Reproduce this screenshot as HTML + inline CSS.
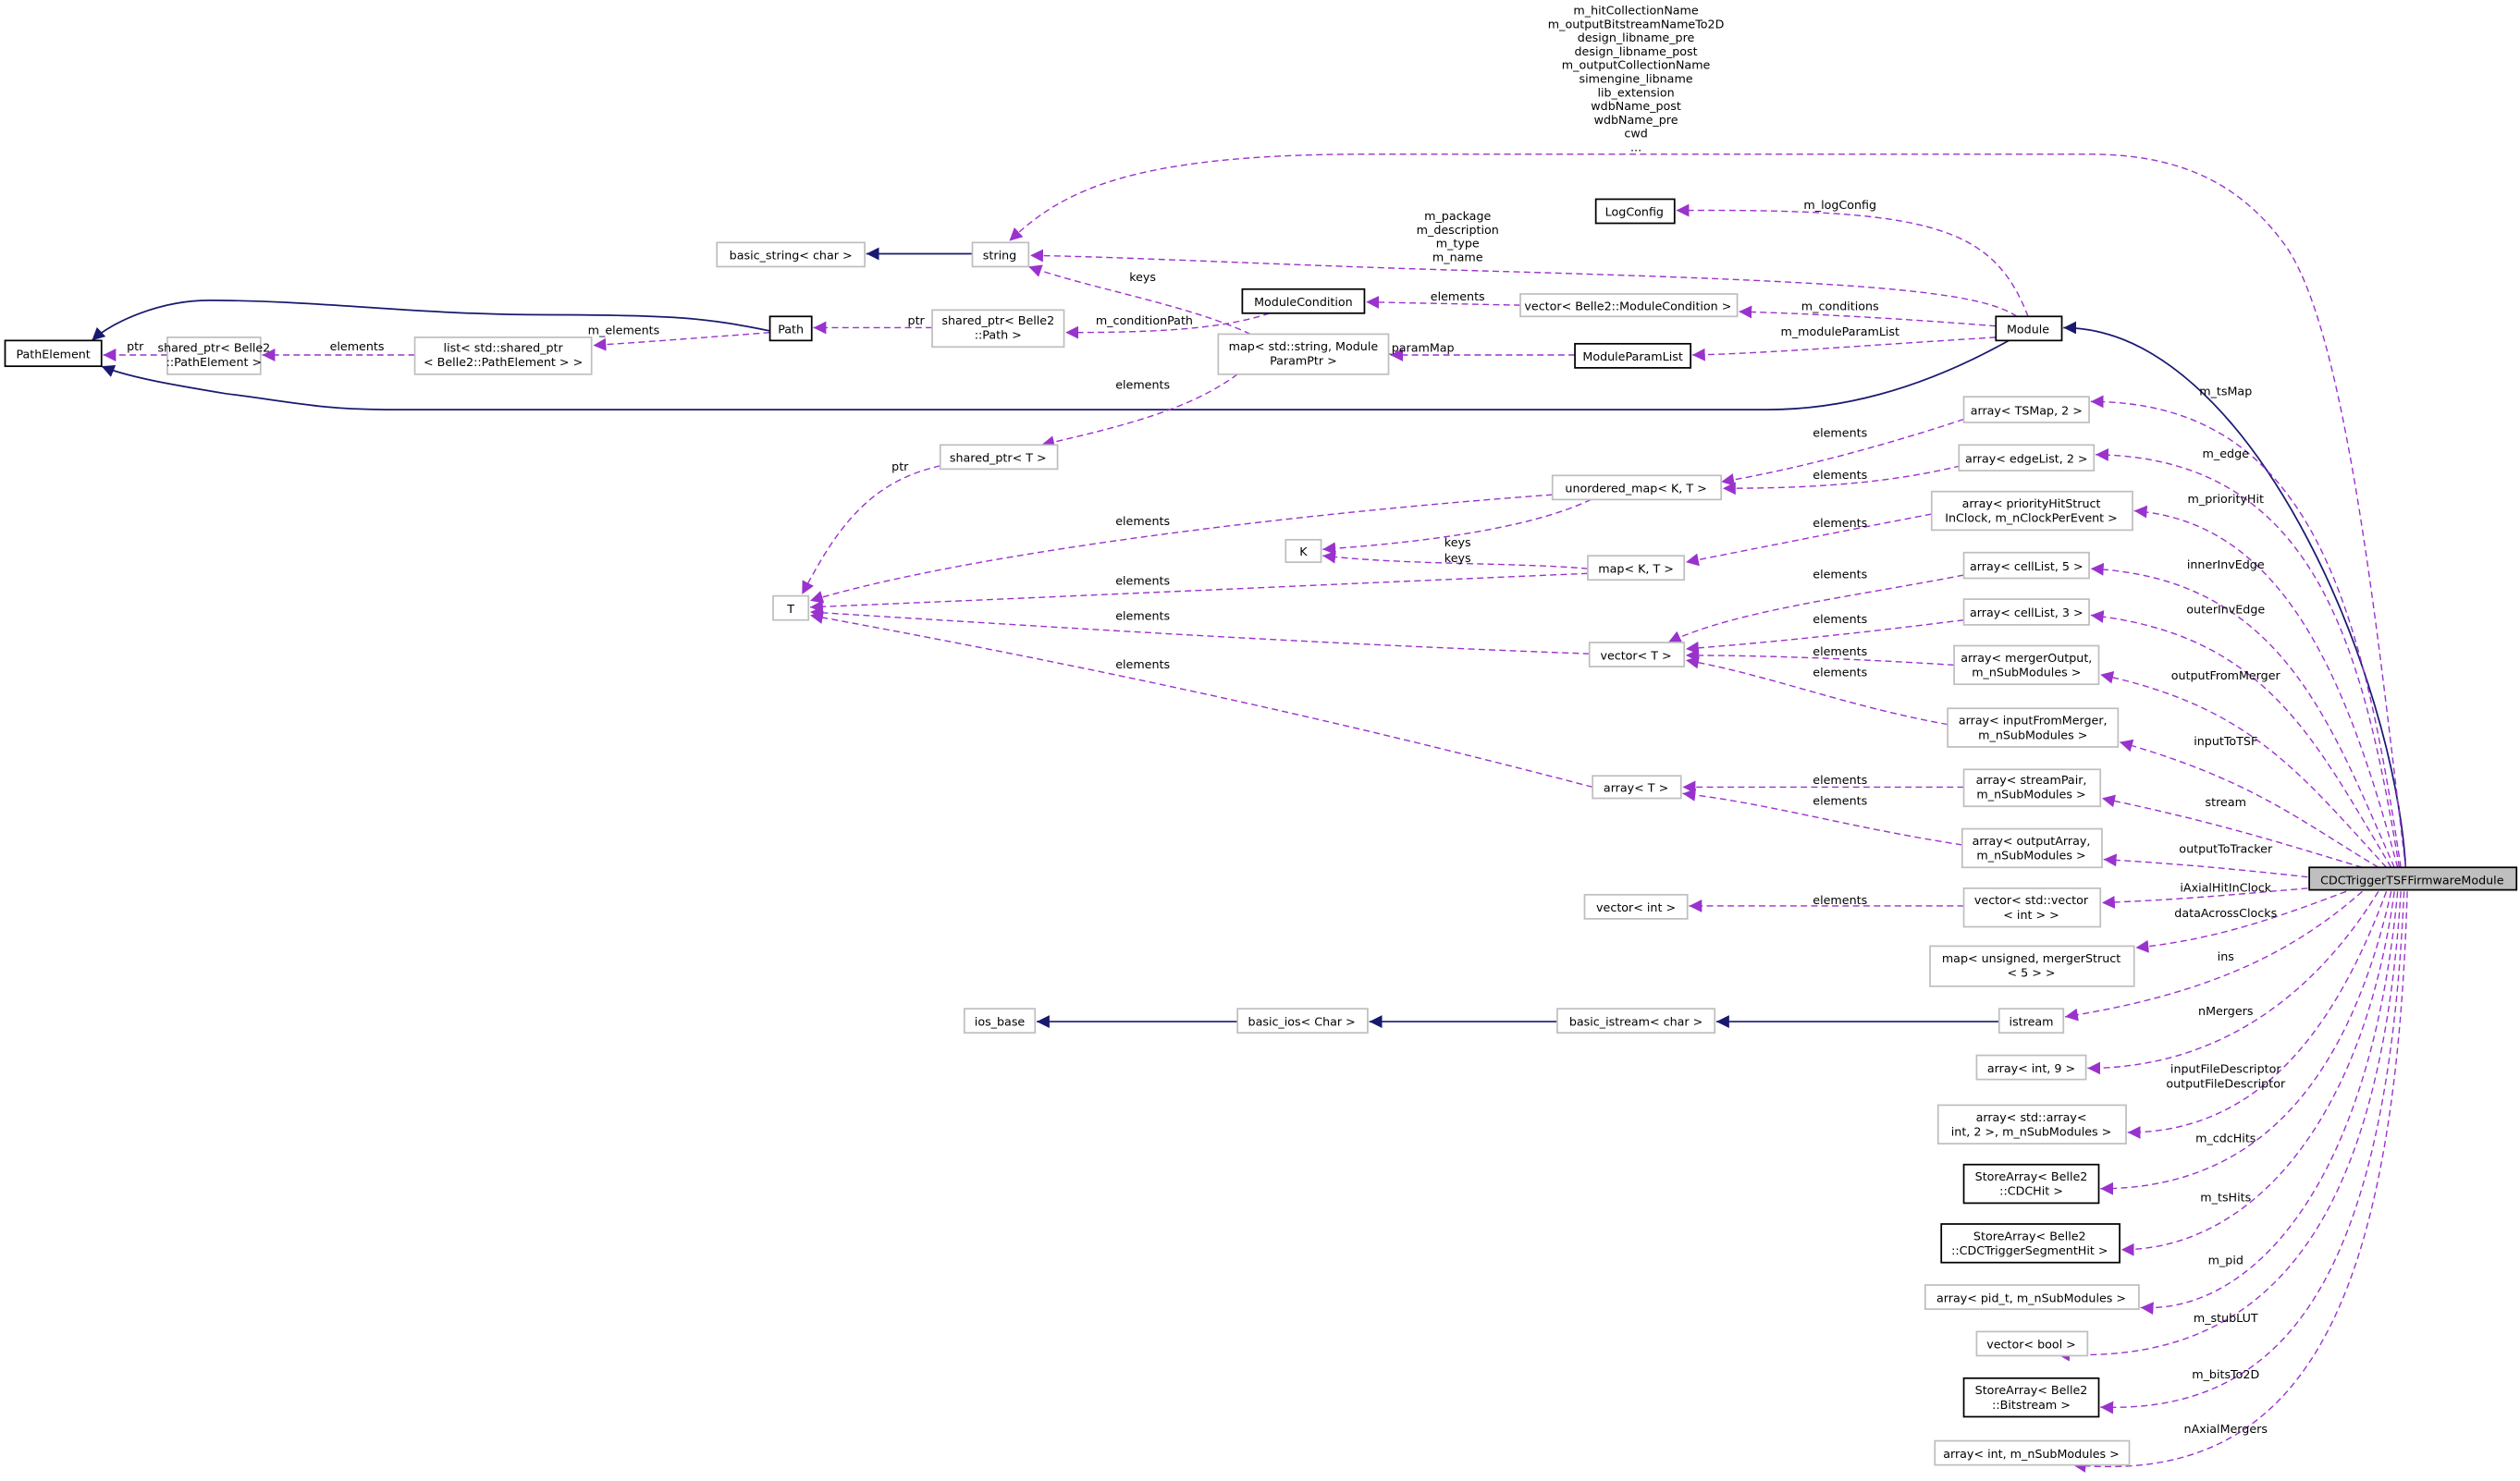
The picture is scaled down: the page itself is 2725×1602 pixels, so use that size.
<!DOCTYPE html>
<html><head><meta charset="utf-8"><style>
html,body{margin:0;padding:0;background:#fff;}
svg{display:block;}
text{font-family:"DejaVu Sans","Liberation Sans",sans-serif;font-size:7.3px;fill:#000;}
.g{fill:#fff;stroke:#bfbfbf;stroke-width:1;}
.b{fill:#fff;stroke:#000;stroke-width:1;}
.d{fill:none;stroke:#9a32cd;stroke-width:0.8;stroke-dasharray:4,2.5;marker-end:url(#mp);}
.s{fill:none;stroke:#191970;stroke-width:1;marker-end:url(#mn);}
</style></head><body>
<svg width="2725" height="1602" viewBox="0 0 1568 922" xmlns="http://www.w3.org/2000/svg">
<defs>
<marker id="mp" markerUnits="userSpaceOnUse" markerWidth="10" markerHeight="8" refX="8" refY="4" orient="auto"><path d="M0,0 L8,4 L0,8 z" fill="#9a32cd"/></marker>
<marker id="mn" markerUnits="userSpaceOnUse" markerWidth="10" markerHeight="8" refX="8" refY="4" orient="auto"><path d="M0,0 L8,4 L0,8 z" fill="#191970"/></marker>
</defs>

<path class="s" d="M605,158 L539,158"/>
<path class="s" d="M1244,636 L1068,636"/>
<path class="s" d="M969,636 L852,636"/>
<path class="s" d="M770,636 L645,636"/>
<path class="s" d="M479,206 C440,198 420,196 340,196 C260,196 200,187 130,187 C100,187 70,200 57,212"/>
<path class="s" d="M1250,212 C1200,240 1150,255 1100,255 L240,255 C200,255 180,250 140,245 C110,240 80,235 63,228"/>
<path class="s" d="M1497,540 C1490,420 1400,204 1284,204"/>

<path class="d" d="M104,221 L64,221"/>
<path class="d" d="M258,221 L163,221"/>
<path class="d" d="M479,207 C440,210 400,213 369,215"/>
<path class="d" d="M580,204 L506,204"/>
<path class="d" d="M790,195 C760,205 720,207 663,207"/>
<path class="d" d="M778,208 C740,190 680,180 640,166"/>
<path class="d" d="M1255,197 C1230,180 1150,175 900,168 C800,165 700,160 641,159"/>
<path class="d" d="M1262,197 C1240,140 1200,130 1043,131"/>
<path class="d" d="M946,190 L850,188"/>
<path class="d" d="M1242,203 C1180,198 1120,195 1082,194"/>
<path class="d" d="M1242,210 C1160,215 1100,220 1053,221"/>
<path class="d" d="M980,221 L865,221"/>
<path class="d" d="M770,233 C740,255 700,265 648,277"/>
<path class="d" d="M585,290 C540,300 520,330 499,370"/>
<path class="d" d="M966,308 C800,320 600,345 504,374"/>
<path class="d" d="M990,311 C950,330 880,338 823,342"/>
<path class="d" d="M988,354 C940,350 880,352 823,346"/>
<path class="d" d="M988,357 C800,365 650,372 504,378"/>
<path class="d" d="M989,407 C800,400 650,390 504,381"/>
<path class="d" d="M991,490 C800,440 650,410 504,383"/>

<path class="d" d="M1222,261 C1180,275 1120,292 1071,300"/>
<path class="d" d="M1220,290 C1170,302 1120,304 1072,304"/>
<path class="d" d="M1202,320 C1150,330 1100,340 1049,350"/>
<path class="d" d="M1222,358 C1150,372 1080,380 1038,400"/>
<path class="d" d="M1222,386 C1150,395 1100,400 1049,404"/>
<path class="d" d="M1216,414 C1150,410 1100,408 1049,408"/>
<path class="d" d="M1212,451 C1150,440 1100,420 1049,411"/>
<path class="d" d="M1222,490 L1047,490"/>
<path class="d" d="M1221,526 C1150,515 1100,500 1047,494"/>
<path class="d" d="M1222,564 L1051,564"/>

<path class="d" d="M1497,540 C1480,400 1460,200 1420,150 C1390,110 1350,96 1300,96 L850,96 C700,96 660,120 628,150"/>

<path class="d" d="M1494,540 C1470,380 1440,250 1301,250"/>
<path class="d" d="M1493,540 C1470,400 1440,285 1304,283"/>
<path class="d" d="M1492,540 C1460,420 1420,325 1328,318"/>
<path class="d" d="M1490,540 C1450,450 1420,360 1301,354"/>
<path class="d" d="M1488,540 C1440,460 1410,395 1301,383"/>
<path class="d" d="M1485,540 C1430,480 1400,440 1307,420"/>
<path class="d" d="M1480,540 C1430,510 1400,485 1319,462"/>
<path class="d" d="M1470,540 C1420,525 1380,512 1308,497"/>
<path class="d" d="M1436,546 C1400,542 1360,538 1309,535"/>
<path class="d" d="M1436,553 C1400,556 1360,560 1308,562"/>
<path class="d" d="M1460,555 C1420,570 1380,585 1329,590"/>
<path class="d" d="M1470,555 C1430,590 1380,618 1285,633"/>
<path class="d" d="M1480,555 C1440,620 1380,665 1299,665"/>
<path class="d" d="M1485,555 C1450,650 1400,705 1324,705"/>
<path class="d" d="M1488,555 C1460,680 1400,740 1307,740"/>
<path class="d" d="M1490,555 C1470,700 1400,778 1320,778"/>
<path class="d" d="M1492,555 C1475,740 1400,818 1332,814"/>
<path class="d" d="M1494,555 C1480,780 1400,850 1280,843"/>
<path class="d" d="M1496,555 C1485,800 1420,880 1307,876"/>
<path class="d" d="M1498,555 C1490,820 1430,925 1290,912"/>

<g text-anchor="middle">
<text x="84" y="218">ptr</text>
<text x="222" y="218">elements</text>
<text x="388" y="208">m_elements</text>
<text x="570" y="202">ptr</text>
<text x="712" y="202">m_conditionPath</text>
<text x="711" y="175">keys</text>
<text x="907" y="137">m_package</text>
<text x="907" y="145.5">m_description</text>
<text x="907" y="154">m_type</text>
<text x="907" y="162.5">m_name</text>
<text x="1145" y="130">m_logConfig</text>
<text x="907" y="187">elements</text>
<text x="1145" y="193">m_conditions</text>
<text x="1145" y="209">m_moduleParamList</text>
<text x="880" y="219">m_paramMap</text>
<text x="711" y="242">elements</text>
<text x="560" y="293">ptr</text>
<text x="711" y="327">elements</text>
<text x="907" y="340">keys</text>
<text x="907" y="350">keys</text>
<text x="711" y="364">elements</text>
<text x="711" y="386">elements</text>
<text x="711" y="416">elements</text>
<text x="1145" y="272">elements</text>
<text x="1145" y="298">elements</text>
<text x="1145" y="328">elements</text>
<text x="1145" y="360">elements</text>
<text x="1145" y="388">elements</text>
<text x="1145" y="408">elements</text>
<text x="1145" y="421">elements</text>
<text x="1145" y="488">elements</text>
<text x="1145" y="501">elements</text>
<text x="1145" y="563">elements</text>
<text x="1385" y="246">m_tsMap</text>
<text x="1385" y="285">m_edge</text>
<text x="1385" y="313">m_priorityHit</text>
<text x="1385" y="354">innerInvEdge</text>
<text x="1385" y="382">outerInvEdge</text>
<text x="1385" y="423">outputFromMerger</text>
<text x="1385" y="464">inputToTSF</text>
<text x="1385" y="502">stream</text>
<text x="1385" y="531">outputToTracker</text>
<text x="1385" y="555">iAxialHitInClock</text>
<text x="1385" y="571">dataAcrossClocks</text>
<text x="1385" y="598">ins</text>
<text x="1385" y="632">nMergers</text>
<text x="1385" y="668">inputFileDescriptor</text>
<text x="1385" y="677">outputFileDescriptor</text>
<text x="1385" y="711">m_cdcHits</text>
<text x="1385" y="748">m_tsHits</text>
<text x="1385" y="787">m_pid</text>
<text x="1385" y="823">m_stubLUT</text>
<text x="1385" y="858">m_bitsTo2D</text>
<text x="1385" y="892">nAxialMergers</text>
<text x="1018" y="9">m_hitCollectionName</text>
<text x="1018" y="17.5">m_outputBitstreamNameTo2D</text>
<text x="1018" y="26">design_libname_pre</text>
<text x="1018" y="34.5">design_libname_post</text>
<text x="1018" y="43">m_outputCollectionName</text>
<text x="1018" y="51.5">simengine_libname</text>
<text x="1018" y="60">lib_extension</text>
<text x="1018" y="68.5">wdbName_post</text>
<text x="1018" y="77">wdbName_pre</text>
<text x="1018" y="85.5">cwd</text>
<text x="1018" y="94">...</text>
</g>

<g text-anchor="middle">
<rect class="b" x="3" y="212" width="60" height="16"/><text x="33" y="223">PathElement</text>
<rect class="g" x="104" y="210" width="58" height="23"/><text x="133" y="219">shared_ptr&lt; Belle2</text><text x="133" y="228">::PathElement &gt;</text>
<rect class="g" x="258" y="210" width="110" height="23"/><text x="313" y="219">list&lt; std::shared_ptr</text><text x="313" y="228">&lt; Belle2::PathElement &gt; &gt;</text>
<rect class="b" x="479" y="197" width="26" height="15"/><text x="492" y="207.5">Path</text>
<rect class="g" x="446" y="151" width="92" height="15"/><text x="492" y="161.5">basic_string&lt; char &gt;</text>
<rect class="g" x="605" y="151" width="35" height="15"/><text x="622" y="161.5">string</text>
<rect class="g" x="580" y="193" width="82" height="23"/><text x="621" y="202">shared_ptr&lt; Belle2</text><text x="621" y="211">::Path &gt;</text>
<rect class="b" x="773" y="180" width="76" height="15"/><text x="811" y="190.5">ModuleCondition</text>
<rect class="g" x="758" y="208" width="106" height="25"/><text x="811" y="218">map&lt; std::string, Module</text><text x="811" y="227">ParamPtr &gt;</text>
<rect class="g" x="946" y="183" width="135" height="14"/><text x="1013" y="193">vector&lt; Belle2::ModuleCondition &gt;</text>
<rect class="b" x="980" y="214" width="72" height="15"/><text x="1016" y="224.5">ModuleParamList</text>
<rect class="b" x="993" y="124" width="49" height="15"/><text x="1017" y="134.5">LogConfig</text>
<rect class="b" x="1242" y="197" width="41" height="15"/><text x="1262" y="207.5">Module</text>
<rect class="g" x="585" y="277" width="73" height="15"/><text x="621" y="287.5">shared_ptr&lt; T &gt;</text>
<rect class="g" x="481" y="371" width="22" height="15"/><text x="492" y="381.5">T</text>
<rect class="g" x="966" y="296" width="105" height="15"/><text x="1018" y="306.5">unordered_map&lt; K, T &gt;</text>
<rect class="g" x="800" y="336" width="22" height="14"/><text x="811" y="346">K</text>
<rect class="g" x="988" y="346" width="60" height="15"/><text x="1018" y="356.5">map&lt; K, T &gt;</text>
<rect class="g" x="989" y="400" width="59" height="15"/><text x="1018" y="410.5">vector&lt; T &gt;</text>
<rect class="g" x="991" y="483" width="55" height="14"/><text x="1018" y="493">array&lt; T &gt;</text>
<rect class="g" x="986" y="557" width="64" height="15"/><text x="1018" y="567.5">vector&lt; int &gt;</text>
<rect class="g" x="600" y="628" width="44" height="15"/><text x="622" y="638.5">ios_base</text>
<rect class="g" x="770" y="628" width="81" height="15"/><text x="810" y="638.5">basic_ios&lt; Char &gt;</text>
<rect class="g" x="969" y="628" width="98" height="15"/><text x="1018" y="638.5">basic_istream&lt; char &gt;</text>

<rect class="g" x="1222" y="247" width="78" height="16"/><text x="1261" y="258">array&lt; TSMap, 2 &gt;</text>
<rect class="g" x="1219" y="277" width="84" height="16"/><text x="1261" y="288">array&lt; edgeList, 2 &gt;</text>
<rect class="g" x="1202" y="306" width="125" height="24"/><text x="1264" y="316">array&lt; priorityHitStruct</text><text x="1264" y="325">InClock, m_nClockPerEvent &gt;</text>
<rect class="g" x="1222" y="344" width="78" height="16"/><text x="1261" y="355">array&lt; cellList, 5 &gt;</text>
<rect class="g" x="1222" y="373" width="78" height="16"/><text x="1261" y="384">array&lt; cellList, 3 &gt;</text>
<rect class="g" x="1216" y="402" width="90" height="24"/><text x="1261" y="412">array&lt; mergerOutput,</text><text x="1261" y="421">m_nSubModules &gt;</text>
<rect class="g" x="1212" y="441" width="106" height="24"/><text x="1265" y="451">array&lt; inputFromMerger,</text><text x="1265" y="460">m_nSubModules &gt;</text>
<rect class="g" x="1222" y="479" width="85" height="23"/><text x="1264" y="488">array&lt; streamPair,</text><text x="1264" y="497">m_nSubModules &gt;</text>
<rect class="g" x="1221" y="516" width="87" height="24"/><text x="1264" y="526">array&lt; outputArray,</text><text x="1264" y="535">m_nSubModules &gt;</text>
<rect class="g" x="1222" y="553" width="85" height="24"/><text x="1264" y="563">vector&lt; std::vector</text><text x="1264" y="572">&lt; int &gt; &gt;</text>
<rect class="g" x="1201" y="589" width="127" height="25"/><text x="1264" y="599">map&lt; unsigned, mergerStruct</text><text x="1264" y="608">&lt; 5 &gt; &gt;</text>
<rect class="g" x="1244" y="628" width="40" height="15"/><text x="1264" y="638.5">istream</text>
<rect class="g" x="1230" y="657" width="68" height="15"/><text x="1264" y="667.5">array&lt; int, 9 &gt;</text>
<rect class="g" x="1206" y="688" width="117" height="24"/><text x="1264" y="698">array&lt; std::array&lt;</text><text x="1264" y="707">int, 2 &gt;, m_nSubModules &gt;</text>
<rect class="b" x="1222" y="725" width="84" height="24"/><text x="1264" y="735">StoreArray&lt; Belle2</text><text x="1264" y="744">::CDCHit &gt;</text>
<rect class="b" x="1208" y="762" width="111" height="24"/><text x="1263" y="772">StoreArray&lt; Belle2</text><text x="1263" y="781">::CDCTriggerSegmentHit &gt;</text>
<rect class="g" x="1198" y="800" width="133" height="15"/><text x="1264" y="810.5">array&lt; pid_t, m_nSubModules &gt;</text>
<rect class="g" x="1230" y="829" width="69" height="15"/><text x="1264" y="839.5">vector&lt; bool &gt;</text>
<rect class="b" x="1222" y="858" width="84" height="24"/><text x="1264" y="868">StoreArray&lt; Belle2</text><text x="1264" y="877">::Bitstream &gt;</text>
<rect class="g" x="1204" y="897" width="121" height="15"/><text x="1264" y="907.5">array&lt; int, m_nSubModules &gt;</text>
<rect x="1437" y="540" width="129" height="14" fill="#bfbfbf" stroke="#000" stroke-width="1"/><text x="1501" y="550.5">CDCTriggerTSFFirmwareModule</text>
</g>
</svg>
</body></html>
